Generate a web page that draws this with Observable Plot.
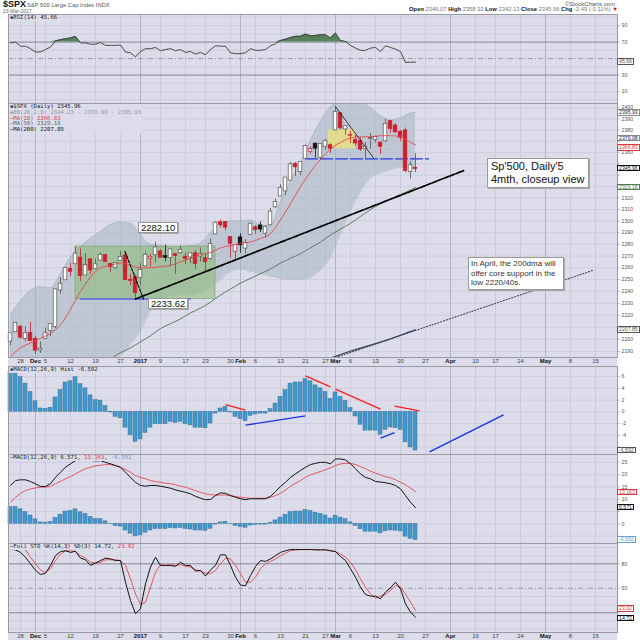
<!DOCTYPE html>
<html><head><meta charset="utf-8">
<script src="https://cdn.jsdelivr.net/npm/d3@7"></script>
<script src="https://cdn.jsdelivr.net/npm/@observablehq/plot@0.6"></script>
<style>
body{margin:0;background:#fff;font-family:Arial,"Liberation Sans",sans-serif;}
#root{position:relative;width:640px;height:640px;overflow:hidden;background:#fff;}
.ov{position:absolute;white-space:nowrap;line-height:1;}
.plab{font-family:"DejaVu Sans Mono",monospace;font-size:5.6px;line-height:5.8px;color:#222;background:#dcdcea;padding:0 1px;}
.tag{position:absolute;left:617px;font-size:5.2px;line-height:4.4px;height:4.4px;background:#fff;border:1px solid #888;padding:0 1px;color:#222;white-space:nowrap;}
.note{position:absolute;background:#fff;border:1px solid #9a9a9a;box-shadow:1px 1px 0 #a8a8a8;white-space:nowrap;color:#111;}
.n1{font-size:9.5px;line-height:9.6px;padding:0 2px;}
.n2{font-size:11px;line-height:13px;padding:1px 3px;width:94px;}
.n3{font-size:8px;line-height:9.6px;padding:1px 2px;color:#333;width:90px;}
.row{position:absolute;left:8px;width:609px;background:#dcdcea;}
</style></head><body><div id="root"></div>
<script>
// ---------- DATA (trading-day index 0 = 23 Nov 2016 ... 81 = 23 Mar 2017) ----------
const open = [2198.55,2206.27,2210.21,2200.76,2204.97,2200.17,2191.12,2200.65,2207.26,2210.72,
 2241.13,2249.73,2258.83,2263.32,2268.35,2253.77,2266.81,2259.24,2266.50,2270.54,
 2262.93,2260.25,2266.23,2270.23,2249.50,2251.61,2251.57,2261.60,2268.18,2271.14,
 2273.59,2269.72,2268.60,2271.14,2272.74,2269.14,2269.14,2271.90,2269.96,2267.78,
 2267.88,2288.88,2298.63,2299.02,2286.01,2274.02,2285.59,2276.69,2288.54,2294.28,
 2295.87,2289.55,2296.70,2312.27,2321.72,2326.12,2335.58,2349.64,2343.01,2354.91,
 2361.11,2367.50,2355.73,2365.23,2366.08,2380.13,2394.75,2380.92,2375.23,2370.74,
 2369.81,2363.49,2372.52,2371.56,2368.55,2370.34,2387.71,2383.71,2378.24,2379.32,
 2343.00,2346.07];
const high = [2204.72,2213.35,2211.14,2210.46,2214.10,2202.60,2197.95,2209.42,2212.78,2241.63,
 2251.69,2259.80,2264.03,2277.53,2276.20,2272.12,2268.05,2267.47,2272.56,2271.23,
 2263.18,2263.79,2273.82,2271.31,2254.51,2253.58,2263.88,2272.82,2271.50,2282.10,
 2275.49,2279.27,2275.32,2271.78,2278.68,2272.08,2272.01,2274.33,2276.96,2271.78,
 2284.63,2299.55,2300.99,2299.02,2286.01,2279.09,2289.14,2283.97,2298.31,2296.18,
 2299.40,2295.91,2311.08,2319.23,2331.58,2337.58,2351.30,2351.31,2351.16,2366.71,
 2365.13,2368.26,2367.34,2371.54,2367.79,2400.98,2394.75,2383.89,2378.80,2375.12,
 2373.09,2369.08,2376.86,2374.42,2368.55,2390.01,2388.10,2385.71,2379.55,2381.93,
 2351.81,2358.92];
const low = [2194.51,2206.27,2200.36,2198.15,2198.81,2187.44,2188.37,2199.97,2202.21,2208.93,
 2237.57,2249.23,2252.37,2263.32,2248.44,2253.77,2254.24,2258.21,2266.14,2265.15,
 2256.08,2258.84,2266.15,2249.11,2244.56,2233.62,2245.13,2261.60,2260.45,2264.06,
 2268.90,2265.27,2260.83,2254.25,2271.51,2262.81,2263.35,2258.41,2265.01,2257.02,
 2266.68,2288.88,2294.08,2291.62,2268.04,2267.21,2272.44,2271.65,2287.88,2288.57,
 2290.16,2285.38,2296.61,2311.10,2321.42,2322.17,2334.81,2338.87,2339.58,2354.91,
 2358.34,2355.09,2352.87,2361.87,2358.96,2380.13,2380.17,2375.39,2367.98,2365.51,
 2361.01,2354.54,2363.04,2368.52,2358.18,2368.94,2377.18,2377.64,2369.66,2341.90,
 2336.45,2342.13];
const close = [2204.72,2213.35,2201.72,2204.66,2198.81,2191.08,2191.95,2204.71,2212.23,2241.35,
 2246.19,2259.53,2256.96,2271.72,2253.28,2262.03,2258.07,2262.53,2270.76,2265.18,
 2260.96,2263.79,2268.88,2249.92,2249.26,2238.83,2257.83,2270.75,2269.00,2276.98,
 2268.90,2268.90,2275.32,2270.44,2274.64,2267.89,2271.89,2263.69,2271.31,2265.20,
 2280.07,2298.37,2296.68,2294.69,2280.90,2278.87,2279.55,2280.85,2297.42,2292.56,
 2293.08,2294.67,2307.87,2316.10,2328.25,2337.58,2349.25,2347.22,2351.16,2365.38,
 2362.82,2363.81,2367.34,2369.75,2363.64,2395.96,2381.92,2383.12,2375.31,2368.39,
 2362.98,2364.87,2372.60,2373.47,2365.45,2385.26,2381.38,2378.25,2373.47,2344.02,
 2348.45,2345.96];
const prevCloseBefore = 2202.94;

const sampleDays = [0,2,4,6,8,10,12,14,16,18,20,22,24,26,28,30,32,34,36,38,40,42,44,46,48,50,52,54,56,58,60,62,64,66,68,70,72,74,76,78,80,81];
const bbUpper = [2221,2232,2241,2244,2243,2255,2269,2278,2285,2291,2297,2299,2298,2288,2280,2279,2278,2278,2279,2281,2290,2297,2300,2300,2301,2297,2296,2317,2335,2351,2371,2388,2401,2406,2406,2405,2400,2393,2389,2391,2395,2395.93];
const bbLower = [2090,2095,2100,2105,2110,2118,2130,2140,2150,2165,2180,2186,2196,2207,2224,2234,2236,2237,2237,2239,2243,2250,2257,2259,2257,2255,2253,2251,2250,2250,2252,2258,2269,2289,2309,2326,2338,2342,2345,2347,2347,2344.23];
const bbMid = [2156,2163,2170,2174,2177,2186,2200,2209,2218,2228,2238,2243,2247,2248,2252,2256,2257,2258,2258,2260,2266,2273,2278,2280,2279,2276,2275,2284,2292,2301,2311,2323,2335,2347,2357,2365,2369,2368,2367,2369,2371,2370.08];
const ma10 = [2186,2193,2197,2201,2205,2212,2225,2240,2252,2260,2262,2264,2262,2260,2260,2261,2262,2265,2268,2271,2273,2277,2279,2281,2282,2285,2289,2301,2315,2330,2343,2354,2363,2369,2373,2374,2374,2375,2375,2374,2369,2366.83];
const ma50 = [null,null,null,null,null,null,null,null,null,null,2184,2189,2193,2198,2203,2209,2213,2217,2222,2226,2231,2237,2242,2247,2251,2255,2259,2264,2268,2272,2277,2282,2288,2293,2298,2304,2310,2315,2319,2323,2327,2329.18];
const ma200Days = [64,65,67,69,71,73,75,77,79,81];
const ma200 = [2184.5,2186,2189,2191.5,2194,2196.5,2199,2202,2205,2207.85];

const rsi = [69,70,65,65,62,58,58,61,64,71.5, 73,74,75,77,69,69,67.5,67.5,69.5,66,
 66,66,66.5,58,57,52,58.6,62,62,63.5, 59.5,61,62,59.5,61,57.5,58.6,55.5,57.5,54.6,
 61,65.5,65,65,57,56,56,57,62,60, 60,61,65.5,68,72,73.6,75.6,77,77,79.7,
 77.6,78,79,79,75,81,72,70.7,66,62.7, 60,60,62.7,63.5,58.6,65.5,63.5,61.5,58.6,45.3, 45.7,45.66];
const macdHist = [6.8,6.8,5.9,4.8,3.4,1.8,0.57,0.5,0.7,2.45, 3.7,5.0,5.2,5.9,4.7,4.0,2.8,2.0,1.9,1.0,
 -0.1,-0.85,-1.1,-2.7,-4.0,-5.1,-4.7,-3.6,-2.7,-2.1, -2.1,-2.1,-1.7,-1.9,-1.7,-2.1,-2.3,-2.7,-2.7,-2.8,
 -2.0,-0.3,0.57,0.85,-0.1,-0.85,-1.25,-1.6,-0.7,-0.45, -0.3,-0.3,0.45,1.4,2.56,3.7,4.8,5.0,5.0,5.56,
 5.2,4.5,4.0,3.4,2.16,3.3,2.55,1.87,0.62,-0.8, -2.2,-3.2,-3.2,-3.2,-3.9,-3.07,-2.67,-2.78,-3.07,-5.2, -6.07,-6.592];
const macdLine = [15.6,17.6,17.9,17.9,17.2,16.3,15.2,15.2,16.3,18.9, 21,23,24.4,25.7,26.1,26.4,25.8,25.6,25.7,25.0,
 24.4,23.7,23.0,21,18.9,16.9,15.6,15.3,15.6,15.6, 15.3,14.9,14.5,13.8,13.3,12.8,12.2,11.2,10.4,9.8,
 9.9,11.5,12.6,12.4,11.5,10.8,10.2,9.8,10.2,10.2, 10.2,10.2,11.2,13.1,15.2,16.9,18.9,20.3,21.7,23,
 24.1,24.6,25,25,24.4,26.4,26.4,26,24.4,22.4, 20.3,18.9,18.3,17.2,17,16.7,16.3,15.6,14.2,11.5, 8.8,6.571];
const macdSignal = [8.8,10.8,12.4,13.5,14.2,14.6,14.9,14.9,15.2,16.3, 17.3,18.3,19.2,20.3,21.4,22.4,23,23.6,23.8,24.1,
 24.1,23.7,23,22.1,21,19.6,18.9,18.3,17.6,17.2, 16.9,16.5,16.3,15.9,15.3,14.9,14.2,13.5,12.8,12.2,
 11.9,11.7,11.7,11.7,11.5,11.1,10.8,10.6,10.4,10.4, 10.4,10.4,10.8,11.5,12.4,13.8,15.2,16.5,17.6,18.9,
 19.9,20.6,21.3,22,22.8,23.7,24.4,24.6,24.6,24.1, 23.3,22.4,21.4,20.6,19.9,19.2,18.7,17.9,16.9,15.9, 14.5,13.163];
const stoK = [98,97,94,88,80,72,67,68.5,78,90, 95,96,94,95.4,87,85,78,81,84,87,
 86,84,84,57.5,35,19,25,55.5,76,88, 78,78,78,77,82,78,78,71,72,65,
 72.6,78,91,91,78,63.6,54,53,65.7,76.7, 84,83,86,90,94,96,97.5,97.5,97.5,97.5,
 97.5,97,97,97,96,95,89,84,74,63.6, 51.4,42.4,40.4,40.4,37.2,45.3,50.6,57.5,49.4,31, 20.8,14.72];
const stoD = [97,98,98,97,88,80,72.6,69.7,74,84, 92,96,96,95,90,87,82,81,82,85,
 85,85,84,78,61.6,43,30,33,51.4,69.7, 79,78,79,78,79,77,76,73,71,68.5,
 68,72,80,87,86,78,68,57.5,57.5,63.6, 74,80,83,86,90,93,96,97,97.5,97.5,
 97.5,97.5,97.5,97.5,96,95,92,88,82,72.6, 61.6,51.4,43,38,40.4,42.4,47.3,53.4,52,43, 33,23.02];

const xTickDays = [2,5,7,12,17,22,26,30,35,39,44,46,49,54,59,63,65,68,73,78,83,88,93,97,102,107,112,117];
const xTickLabels = ["28","Dec","5","12","19","27","2017","9","17","23","30","Feb","6","13","21","27","Mar","6","13","20","27","Apr","10","17","24","May","8","15"];
const monthLabels = ["Dec","2017","Feb","Mar","Apr","May"];
const priceGrid = [2190,2200,2210,2220,2230,2240,2250,2260,2270,2280,2290,2300,2310,2320,2330,2340,2350,2360,2370,2380,2390,2400];
// tick labels that are not hidden behind the value tags
const priceTickLabels = [2190,2200,2220,2230,2240,2250,2260,2270,2280,2290,2300,2310,2320,2360,2380,2390,2400];
const rsiTickLabels = [10,30,70,90];
const histTicks = [-6,-4,-2,0,2,4,6];
const histTickLabels = [-4,-2,0,2,4,6];
const macdTicks = [-5,0,5,10,15,20,25];
const macdTickLabels = [0,10,15,20,25];
const stoTickLabels = [50,80];

// hand-drawn annotations (data units: [day, price] / [day, value])
const trendMain = [[25,2233.62],[90.6,2344]];
const trendDec = [[22.9,2273.8],[26.6,2233.62]];
const trendMar = [[65,2400.98],[72.6,2355.3]];
const supportLine = [[14,2233.62],[36,2233.62]];
const resistDash = [[59,2354.4],[83.6,2354.4]];
const dotted200 = [[65,2185],[116.4,2257.7]];
const greenBoxDays = [13,41], greenBoxPrices = [2233.62,2278];
const yellowBoxDays = [63.6,69], yellowBoxPrices = [2363.3,2380.2];
const histNotes = [[43,1.24,47,0.29,"r"],[47,-2.27,59,-0.68,"b"],[59,6.13,64,4.26,"r"],[65,3.87,74,0.46,"r"],
 [74,-4.48,76.8,-3.53,"b"],[76.8,0.97,81.8,0.17,"r"],[83.8,-6.81,98.6,-0.51,"b"]];
const noteDays = [25.6,27.6,95.4,91.6];
const notePrices = [2299.0,2234.3,2354.7,2268.8];
const noteTexts = ["2282.10","2233.62","Sp'500, Daily'5<br>4mth, closeup view","In April, the 200dma will<br>offer core support in the<br>low 2220/40s."];
const noteClasses = ["n1","n1","n2","n3"];

// ---------- BUILD ----------
const root = document.getElementById("root");
const X_DOMAIN = [-0.4, 121.4];
const BG = "#dcdcea", GRID = "#c8c9d8", GRID_M = "#b2b3c5", BORDER = "#9a9aa6";
const RED = "#cc1f2d", LINERED = "#e2474f", HBLUE = "#4398cb";

const days = d3.range(close.length);
const candles = days.map(i => {
  const p = i === 0 ? prevCloseBefore : close[i-1];
  const up = close[i] >= open[i], down = close[i] < p;
  return {i, lo: Math.min(open[i], close[i]), hi: Math.max(open[i], close[i]), l: low[i], h: high[i],
    fill: up ? "#ffffff" : (down ? RED : "#111111"), stroke: down ? RED : (up ? "#555555" : "#111111")};
});
const sampled = sampleDays.map((d,k) => ({d, u: bbUpper[k], l: bbLower[k], m: bbMid[k], ma10: ma10[k], ma50: ma50[k]}));
const ma200Data = ma200Days.map((d,k) => ({d, v: ma200[k]}));
const series = (arr) => arr.map((v,i) => ({i, v}));
const xTicks = xTickDays.map((d,k) => ({d, t: xTickLabels[k], m: monthLabels.includes(xTickLabels[k])}));

function xGrid() {
  return [Plot.ruleX(xTicks.filter(t => !t.m), {x: "d", stroke: GRID, strokeWidth: 0.8}),
          Plot.ruleX(xTicks.filter(t => t.m), {x: "d", stroke: GRID_M, strokeWidth: 1})];
}
function xLabels(dy) {
  return [Plot.text(xTicks.filter(t => !t.m), {x: "d", text: "t", frameAnchor: "bottom", lineAnchor: "middle", dy, fill: "#444"}),
          Plot.text(xTicks.filter(t => t.m), {x: "d", text: "t", frameAnchor: "bottom", lineAnchor: "middle", dy, fill: "#111", fontWeight: "bold"})];
}
function yLabels(ticks, labels) {
  return [Plot.ruleY(ticks, {y: d => d, x1: X_DOMAIN[1], x2: X_DOMAIN[1] + 0.5, stroke: "#777", strokeWidth: 0.6}),
          Plot.text(labels, {y: d => d, text: d => String(d), frameAnchor: "right", textAnchor: "start", dx: 4, fill: "#555", fontSize: 5.2})];
}
function panel({top, height, marginBottom = 0, y, marks}) {
  const p = Plot.plot({
    width: 640, height, marginLeft: 8, marginRight: 23, marginTop: 0, marginBottom,
    x: {domain: X_DOMAIN, axis: null},
    y: {...y, axis: null},
    color: {type: "identity"},
    style: {background: "transparent", fontSize: "6px", fontFamily: "Arial, 'Liberation Sans', sans-serif", color: "#444", overflow: "visible"},
    marks: [Plot.frame({fill: BG}), ...marks, Plot.frame({stroke: BORDER, fill: "none"})]
  });
  p.style.position = "absolute"; p.style.left = "0px"; p.style.top = top + "px";
  root.appendChild(p);
  return p;
}
const seg = (pts, opts) => Plot.line(pts, {x: d => d[0], y: d => d[1], ...opts});

// axis rows background
for (const [t, h] of [[357, 9], [632, 8]]) {
  const r = document.createElement("div"); r.className = "row"; r.style.top = t + "px"; r.style.height = h + "px"; root.appendChild(r);
}

// RSI panel
const rsiData = series(rsi);
const rsiPlot = panel({top: 14, height: 89, y: {domain: [-4.5, 103.5]}, marks: [
  Plot.ruleY([0,10,20,40,60,80,90,100], {stroke: GRID, strokeWidth: 0.7}),
  ...xGrid(),
  Plot.ruleY([30,70], {stroke: "#85859a", strokeWidth: 1}),
  Plot.ruleY([50], {stroke: "#9a9aae", strokeDasharray: "5,2,1,2"}),
  Plot.areaY(rsiData, {x: "i", y1: 70, y2: d => Math.max(70, d.v), fill: "#55805a"}),
  Plot.line(rsiData, {x: "i", y: "v", stroke: "#3a3a3a", strokeWidth: 0.9}),
  ...yLabels([10,30,50,70,90], rsiTickLabels)
]});

// Price panel
const pricePlot = panel({top: 103, height: 263, marginBottom: 9, y: {type: "log", domain: [2185.07, 2403.9]}, marks: [
  Plot.ruleY(priceGrid, {stroke: GRID, strokeWidth: 0.7}),
  ...xGrid(),
  Plot.areaY(sampled, {x: "d", y1: "l", y2: "u", fill: "#a6b6bf", fillOpacity: 0.55, curve: "monotone-x", clip: true}),
  Plot.line(sampled, {x: "d", y: "u", stroke: "#a9b5bd", strokeWidth: 0.6, curve: "monotone-x", clip: true}),
  Plot.line(sampled, {x: "d", y: "l", stroke: "#a9b5bd", strokeWidth: 0.6, curve: "monotone-x", clip: true}),
  Plot.line(sampled, {x: "d", y: "m", stroke: "#bac3c9", strokeWidth: 0.8, curve: "monotone-x", clip: true}),
  Plot.rect([0], {x1: greenBoxDays[0], x2: greenBoxDays[1], y1: greenBoxPrices[0], y2: greenBoxPrices[1], fill: "#86b96a", fillOpacity: 0.5, stroke: "#6f9e58", strokeOpacity: 0.7, strokeWidth: 0.8}),
  Plot.rect([0], {x1: yellowBoxDays[0], x2: yellowBoxDays[1], y1: yellowBoxPrices[0], y2: yellowBoxPrices[1], fill: "#f2e66a", fillOpacity: 0.65}),
  Plot.line(sampled, {x: "d", y: "ma50", stroke: "#5f7b60", strokeWidth: 1, curve: "monotone-x", clip: true}),
  seg(dotted200, {stroke: "#4a4a55", strokeWidth: 1.1, strokeDasharray: "1.2,1.8", clip: true}),
  Plot.line(ma200Data, {x: "d", y: "v", stroke: "#3c4260", strokeWidth: 1.2, clip: true}),
  seg(supportLine, {stroke: "#5868e8", strokeWidth: 1.4}),
  seg(resistDash, {stroke: "#2538e6", strokeWidth: 1.4, strokeDasharray: "12,3"}),
  Plot.ruleX(candles, {x: "i", y1: "l", y2: "h", stroke: "stroke", strokeWidth: 0.8}),
  Plot.rect(candles, {x1: d => d.i - 0.36, x2: d => d.i + 0.36, y1: "lo", y2: "hi", fill: "fill", stroke: "stroke", strokeWidth: 0.7, insetTop: -0.4, insetBottom: -0.4}),
  Plot.line(sampled, {x: "d", y: "ma10", stroke: LINERED, strokeWidth: 0.9, curve: "monotone-x", clip: true}),
  seg(trendMain, {stroke: "#000", strokeWidth: 1.7, strokeDasharray: "5,1.5"}),
  seg(trendDec, {stroke: "#000", strokeWidth: 1.1, strokeDasharray: "3,1.5"}),
  seg(trendMar, {stroke: "#111", strokeWidth: 0.8}),
  ...yLabels(priceGrid, priceTickLabels),
  ...xLabels(4)
]});

// MACD histogram panel
const histData = series(macdHist);
const histPlot = panel({top: 366, height: 88, y: {domain: [-7.27, 7.72]}, marks: [
  Plot.ruleY(histTicks, {stroke: GRID, strokeWidth: 0.7}),
  ...xGrid(),
  Plot.rect(histData, {x1: d => d.i - 0.4, x2: d => d.i + 0.4, y1: 0, y2: "v", fill: HBLUE, stroke: "#3a7499", strokeWidth: 0.5}),
  Plot.link(histNotes, {x1: d => d[0], y1: d => d[1], x2: d => d[2], y2: d => d[3], stroke: d => d[4] === "r" ? "#f02020" : "#2030e6", strokeWidth: 1.3}),
  ...yLabels(histTicks, histTickLabels)
]});

// MACD panel
const macdPlot = panel({top: 454, height: 89, y: {domain: [-8, 28.2]}, marks: [
  Plot.ruleY(macdTicks, {stroke: GRID, strokeWidth: 0.7}),
  ...xGrid(),
  Plot.rect(histData, {x1: d => d.i - 0.4, x2: d => d.i + 0.4, y1: 0, y2: "v", fill: HBLUE, stroke: "#3a7499", strokeWidth: 0.5}),
  Plot.line(series(macdSignal), {x: "i", y: "v", stroke: LINERED, strokeWidth: 0.9}),
  Plot.line(series(macdLine), {x: "i", y: "v", stroke: "#111", strokeWidth: 1}),
  ...yLabels(macdTicks, macdTickLabels)
]});

// Full STO panel
const stoPlot = panel({top: 543, height: 97, marginBottom: 8, y: {domain: [-4.1, 104.9]}, marks: [
  Plot.ruleY([0,10,30,40,60,70,90,100], {stroke: GRID, strokeWidth: 0.7}),
  ...xGrid(),
  Plot.ruleY([20,80], {stroke: "#85859a", strokeWidth: 1}),
  Plot.ruleY([50], {stroke: "#9a9aae", strokeDasharray: "5,2,1,2"}),
  Plot.line(series(stoD), {x: "i", y: "v", stroke: LINERED, strokeWidth: 0.9}),
  Plot.line(series(stoK), {x: "i", y: "v", stroke: "#111", strokeWidth: 1}),
  ...yLabels([20,50,80], stoTickLabels),
  ...xLabels(3.5)
]});

// ---------- TEXT OVERLAYS ----------
function addDiv(html, css, cls = "ov") {
  const d = document.createElement("div"); d.className = cls; d.innerHTML = html;
  Object.assign(d.style, css); root.appendChild(d); return d;
}
// header
addDiv('$SPX', {left: "3px", top: "0px", fontSize: "9px", fontWeight: "bold", color: "#111"});
addDiv('S&amp;P 500 Large Cap Index INDX', {left: "27px", top: "2.5px", fontSize: "5.8px", color: "#555"});
addDiv('23-Mar-2017', {left: "3px", top: "9.2px", fontSize: "5px", color: "#666"});
addDiv('©StockCharts.com', {right: "25px", top: "0.5px", fontSize: "6px", color: "#555"});
addDiv('<b>Open</b> <span style="color:#777">2346.07</span> <b>High</b> <span style="color:#777">2358.92</span> <b>Low</b> <span style="color:#777">2342.13</span> <b>Close</b> <span style="color:#777">2345.96</span> <b>Chg</b> <span style="color:#777">-2.49 (-0.11%)</span> <span style="color:#d00">▼</span>',
  {right: "22px", top: "7.3px", fontSize: "5.8px", color: "#111"});

// panel labels
addDiv('▪RSI(14) 45.66', {left: "9px", top: "15px"}, "ov plab");
addDiv('▪$SPX (Daily) 2345.96<br><span style="color:#9a9a9a">▪BB(20,2.0) 2344.23 - 2370.08 - 2395.93</span><br><span style="color:#d83a44">—MA(10) 2366.83</span><br><span style="color:#666">—MA(50) 2329.18</span><br><span style="color:#111">—MA(200) 2207.85</span>', {left: "9px", top: "104px"}, "ov plab");
addDiv('▪MACD(12,26,9) Hist -6.592', {left: "9px", top: "367px"}, "ov plab");
addDiv('—MACD(12,26,9) 6.571, <span style="color:#e03a44">13.163</span>, <span style="color:#6d9fd2">-6.592</span>', {left: "9px", top: "455px"}, "ov plab");
addDiv('—Full STO %K(14,3) %D(3) 14.72, <span style="color:#e03a44">23.02</span>', {left: "9px", top: "544px"}, "ov plab");

// right-side value tags (positioned through the plots' own y scales)
function tag(plot, top, value, text, color, shift = 0) {
  const y = top + plot.scale("y").apply(value);
  addDiv(text, {top: (y - 3.2 + shift) + "px", borderColor: color, color: color === "#888" ? "#222" : color}, "tag");
}
tag(rsiPlot, 14, 45.66, "45.66", "#555");
tag(pricePlot, 103, 2395.93, "2395.93", "#888", 0.6);
tag(pricePlot, 103, 2370.08, "2370.08", "#888", -3);
tag(pricePlot, 103, 2366.83, "2366.83", "#d83a44", 3);
tag(pricePlot, 103, 2345.96, "2345.96", "#111");
tag(pricePlot, 103, 2329.18, "2329.18", "#4f7a4f");
tag(pricePlot, 103, 2207.85, "2207.85", "#555");
tag(histPlot, 366, -6.592, "-6.592", "#555");
tag(macdPlot, 454, 13.163, "13.163", "#d83a44", 1);
tag(macdPlot, 454, 6.571, "6.571", "#111");
tag(macdPlot, 454, -6.592, "-6.592", "#6d9fd2");
tag(stoPlot, 543, 23.02, "23.02", "#d83a44", -1.5);
tag(stoPlot, 543, 14.72, "14.72", "#111", 1.5);

// note boxes (anchored to data coordinates via the price plot's scales)
const sx = pricePlot.scale("x"), sy = pricePlot.scale("y");
noteTexts.forEach((t, k) => {
  addDiv(t, {left: sx.apply(noteDays[k]) + "px", top: (103 + sy.apply(notePrices[k])) + "px"}, "note " + noteClasses[k]);
});
</script></body></html>
